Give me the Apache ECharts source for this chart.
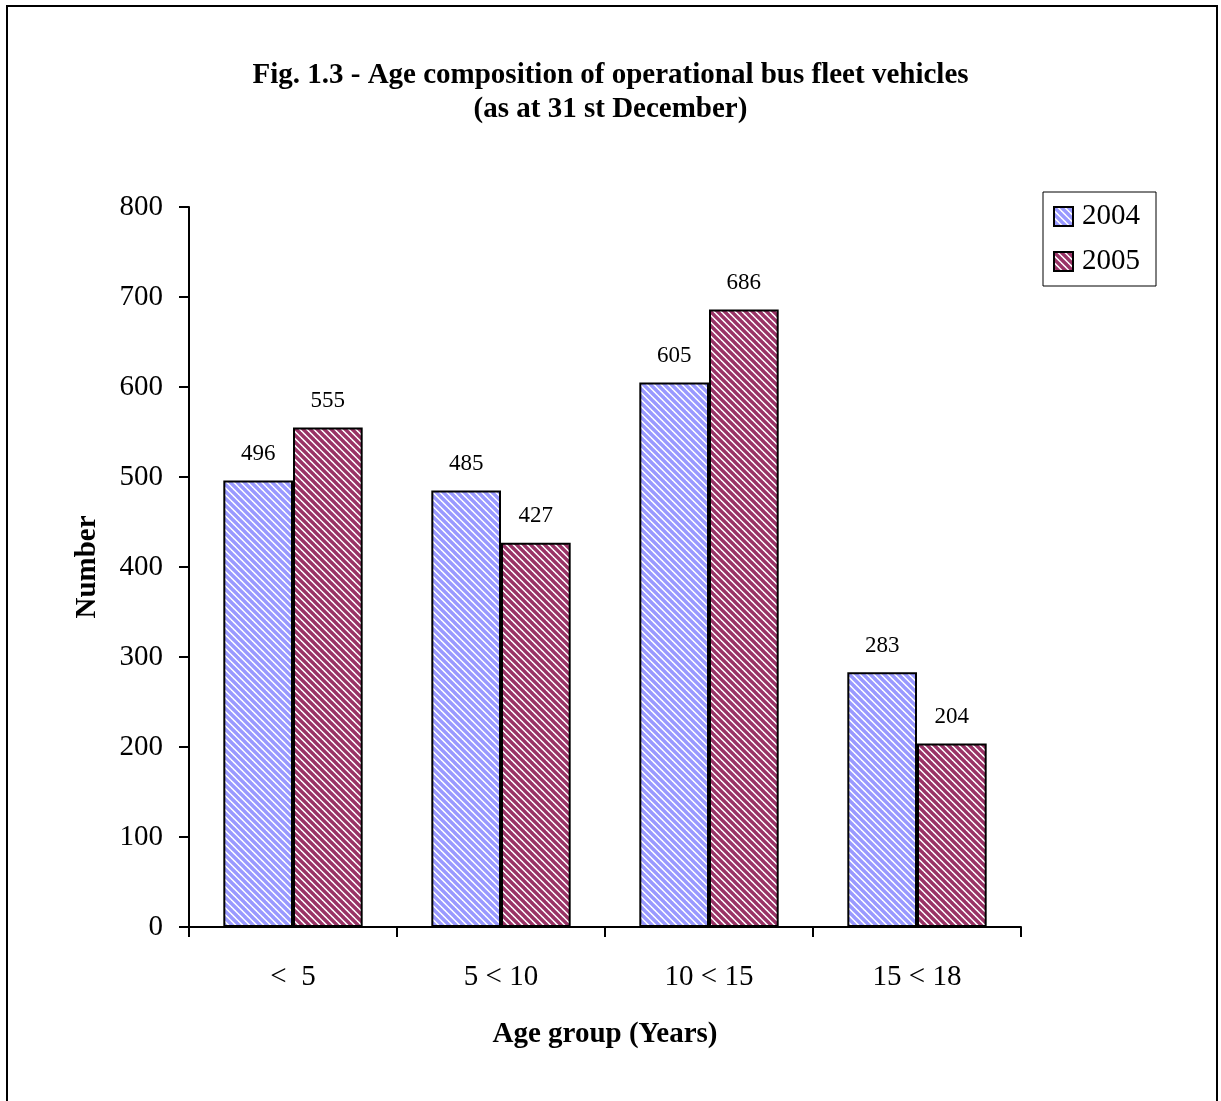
<!DOCTYPE html>
<html lang="en">

<head>
  <meta charset="UTF-8">
  <title>Fig. 1.3 - Age composition of operational bus fleet vehicles</title>
  <script src="https://cdn.jsdelivr.net/npm/echarts@6.0.0/dist/echarts.min.js"></script>
  <style>
    body {
      margin: 0;
      background: #fff;
    }

    #chart {
      width: 1221px;
      height: 1101px;
    }
  </style>
</head>

<body>
  <div id="chart"></div>

  <script>
    const ageGroups = ['<  5', '5 < 10', '10 < 15', '15 < 18']
    const fleet2004 = [496, 485, 605, 283]
    const fleet2005 = [555, 427, 686, 204]
    const yTicks = { min: 0, max: 800, interval: 100 }

    const font = 'Liberation Serif'

    // diagonal stripes "\" like the old Excel fill
    function stripes(color) {
      const size = 7
      const c = document.createElement('canvas')
      c.width = size
      c.height = size
      const ctx = c.getContext('2d')
      ctx.fillStyle = '#fff'
      ctx.fillRect(0, 0, size, size)
      ctx.strokeStyle = color
      ctx.lineWidth = 3.4
      for (let k = -1; k <= 1; k++) {
        ctx.beginPath()
        ctx.moveTo(k * size - 1, -1)
        ctx.lineTo(k * size + size + 1, size + 1)
        ctx.stroke()
      }
      return { image: c, repeat: 'repeat' }
    }

    const labelStyle = { show: true, position: 'top', distance: 15, fontFamily: font, fontSize: 23, color: '#000' }

    const myChart = echarts.init(document.getElementById('chart'))
    const option = {
      backgroundColor: '#fff',
      animation: false,
      textStyle: { fontFamily: font, color: '#000' },
      title: {
        text: 'Fig. 1.3 - Age composition of operational bus fleet vehicles\n(as at 31 st December)',
        left: 'center',
        top: 54,
        textStyle: { fontFamily: font, fontSize: 29, fontWeight: 'bold', color: '#000', lineHeight: 34 }
      },
      legend: {
        orient: 'vertical',
        left: 1043,
        top: 192,
        padding: [10, 16, 10, 10],
        itemGap: 16,
        itemWidth: 19,
        itemHeight: 19,
        borderColor: '#000',
        borderWidth: 1,
        textStyle: { fontFamily: font, fontSize: 29, color: '#000', padding: [0, 0, 0, 4] },
        data: [
          { name: '2004', icon: 'rect', itemStyle: { borderColor: '#000', borderWidth: 2 } },
          { name: '2005', icon: 'rect', itemStyle: { borderColor: '#000', borderWidth: 2 } }
        ]
      },
      grid: {
        left: 189,
        right: 200,
        top: 207,
        bottom: 174
      },
      xAxis: {
        type: 'category',
        data: ageGroups,
        name: 'Age group (Years)',
        nameLocation: 'middle',
        nameGap: 93,
        nameTextStyle: { fontFamily: font, fontSize: 29, fontWeight: 'bold', color: '#000' },
        axisLine: { lineStyle: { color: '#000', width: 2 } },
        axisTick: { show: true, alignWithLabel: false, length: 10, lineStyle: { color: '#000', width: 2 } },
        axisLabel: { fontFamily: font, fontSize: 29, color: '#000', margin: 36 }
      },
      yAxis: {
        type: 'value',
        min: yTicks.min,
        max: yTicks.max,
        interval: yTicks.interval,
        name: 'Number',
        nameLocation: 'middle',
        nameGap: 87,
        nameTextStyle: { fontFamily: font, fontSize: 29, fontWeight: 'bold', color: '#000' },
        axisLine: { show: true, lineStyle: { color: '#000', width: 2 } },
        axisTick: { show: true, length: 10, lineStyle: { color: '#000', width: 2 } },
        axisLabel: { fontFamily: font, fontSize: 29, color: '#000', margin: 26 },
        splitLine: { show: false }
      },
      series: [{
          name: '2004',
          type: 'bar',
          data: fleet2004,
          barGap: '0%',
          barCategoryGap: '33%',
          itemStyle: { color: stripes('#9999ff'), borderColor: '#000', borderWidth: 2 },
          label: labelStyle
        },
        {
          name: '2005',
          type: 'bar',
          data: fleet2005,
          itemStyle: { color: stripes('#993366'), borderColor: '#000', borderWidth: 2 },
          label: labelStyle
        }
      ],
      graphic: [{
        type: 'rect',
        shape: { x: 7, y: 6, width: 1210, height: 1200 },
        style: { fill: null, stroke: '#000', lineWidth: 2 },
        silent: true
      }]
    }
    myChart.setOption(option)
  </script>
</body>

</html>
